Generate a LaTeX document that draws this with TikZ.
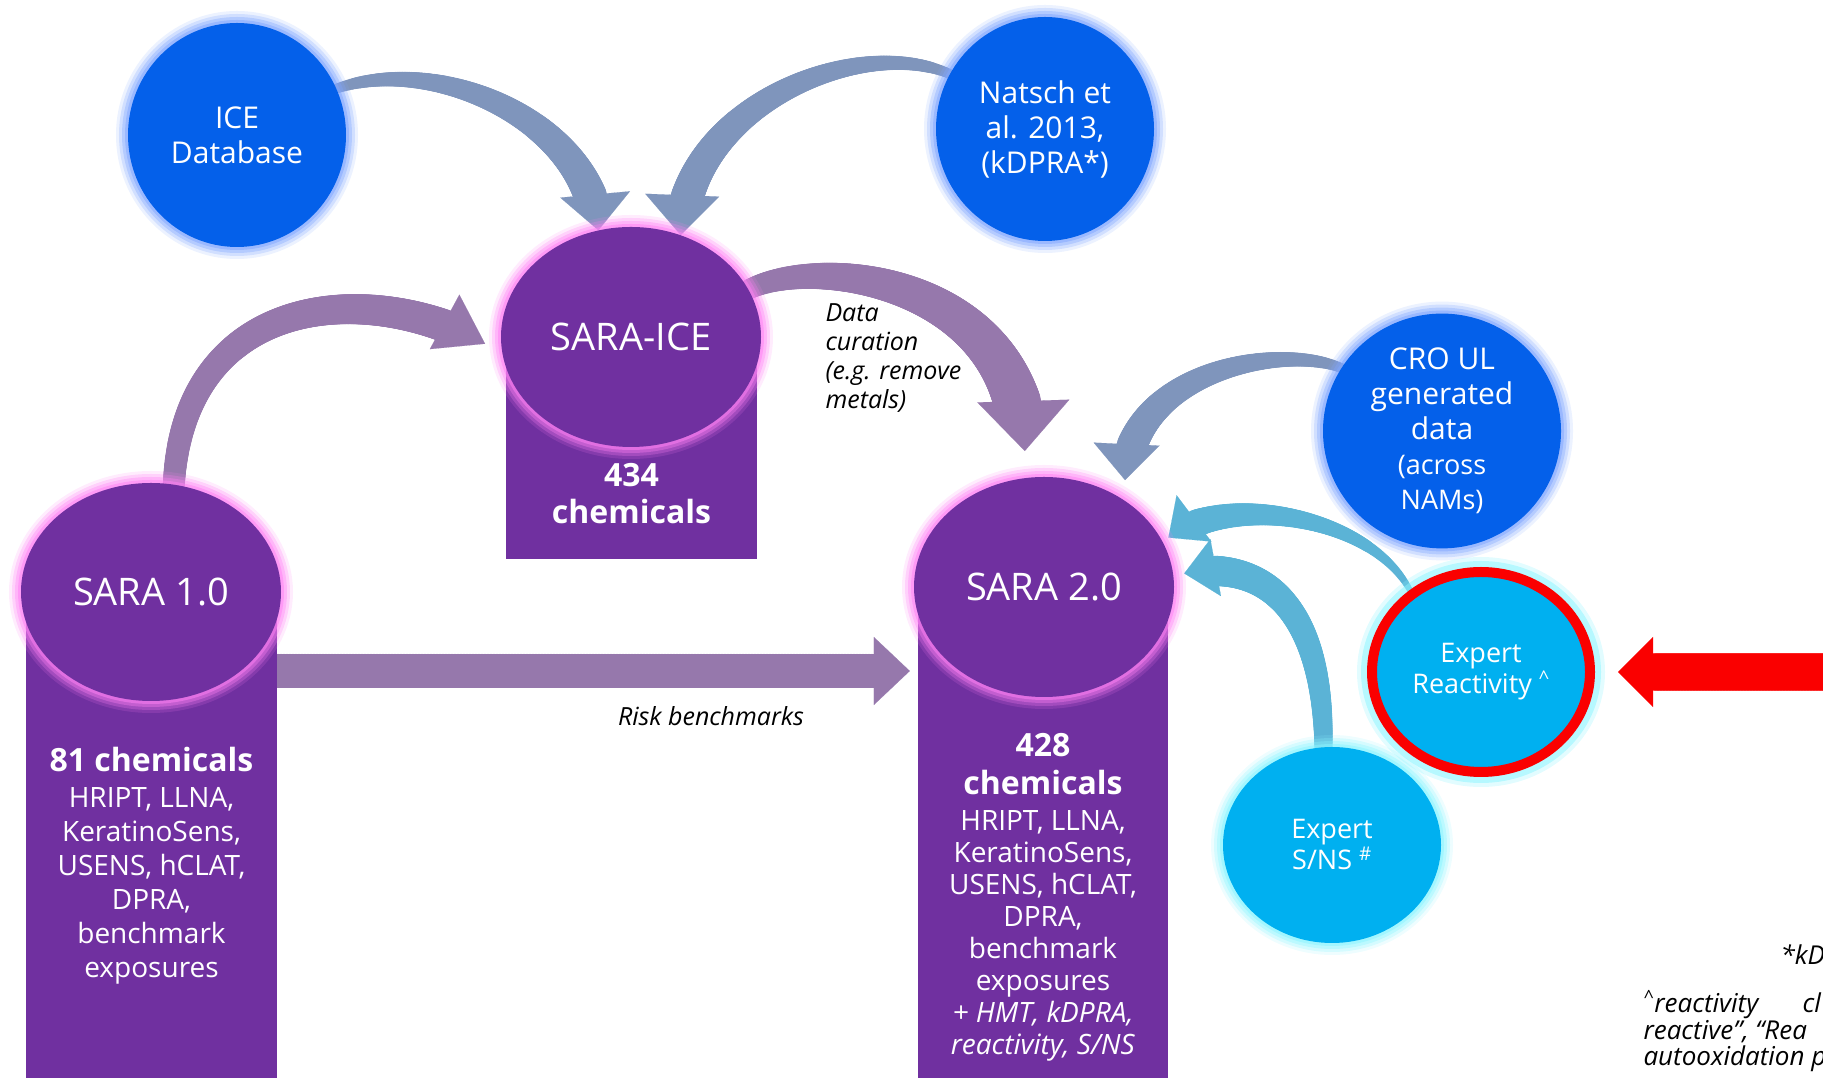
\documentclass[tikz,border=0pt]{standalone}
\usepackage{fontspec}
\setmainfont{Open Sans}
\usetikzlibrary{shapes.geometric,decorations.markings,backgrounds,arrows.meta}

\definecolor{sarapurple}{HTML}{7030A0}
\definecolor{srcblue}{HTML}{0460EA}
\definecolor{expblue}{HTML}{00B0F0}
\definecolor{pinkglow}{HTML}{FF80F4}
\definecolor{blueglow}{HTML}{7FA6FF}
\definecolor{cyanglow}{HTML}{8AF4FF}
\definecolor{flowblue}{HTML}{7F95BC}
\definecolor{flowpurple}{HTML}{9678AC}
\definecolor{flowteal}{HTML}{5BB3D6}
\definecolor{alertred}{HTML}{FA0000}

\newcommand\chemline[1]{{\fontsize{32}{37}\selectfont\bfseries #1}}

\tikzset{
  glow/.style={preaction={draw=#1,line width=24pt,draw opacity=.15},
               preaction={draw=#1,line width=18pt,draw opacity=.25},
               preaction={draw=#1,line width=12pt,draw opacity=.35},
               preaction={draw=#1,line width=6pt,draw opacity=.5}},
  bubble/.style={ellipse,inner sep=0pt,text=white,align=center},
  srcbubble/.style={bubble,fill=srcblue,glow=blueglow,minimum width=218pt,
                    minimum height=224pt,font=\fontsize{30}{35}\selectfont},
  sarabubble/.style={bubble,fill=sarapurple,glow=pinkglow,minimum width=260pt,
                     minimum height=220pt,font=\fontsize{38}{44}\selectfont},
  column/.style={rectangle,fill=sarapurple,inner sep=0pt,anchor=north},
  coltext/.style={text=white,align=center,font=\fontsize{28}{34}\selectfont},
  note/.style={font=\fontsize{25}{29}\selectfont\itshape,align=left},
  footnote/.style={font=\fontsize{26}{29}\selectfont\itshape,anchor=base west},
  % tapered arrow: colour, start radius, end radius, head width, head length
  flow/.style n args={5}{draw=#1,line width=.1pt,
    -{Triangle[width=#4pt,length=#5pt]},
    decoration={markings,
      mark=between positions 0 and -#5pt step 1.5pt with {%
        \pgfmathsetmacro\flowrad{#2+(#3-#2)*\pgfkeysvalueof{/pgf/decoration/mark info/distance from start}/\pgfdecoratedpathlength}%
        \fill[#1] (0,0) circle[radius=\flowrad pt];}},
    postaction={decorate}}
}

\begin{document}
\begin{tikzpicture}[x=1pt,y=1pt]
  \useasboundingbox (0,0) rectangle (1823,1078);
  \clip (0,0) rectangle (1823,1078);

  % purple columns
  \node[column,minimum width=251pt,minimum height=500pt] (sara1col) at (151.5,486) {};
  \node[column,minimum width=251pt,minimum height=222pt] (saraicecol) at (631.5,741) {};
  \node[column,minimum width=250pt,minimum height=505pt] (sara2col) at (1043,491) {};

  % SARA stages
  \node[sarabubble,minimum height=218pt] (sara1) at (151,486) {SARA 1.0};
  \node[sarabubble] (saraice) at (631,741) {SARA-ICE};
  \node[sarabubble] (sara2) at (1044,491) {SARA 2.0};

  % data sources
  \node[srcbubble] (ice) at (237,943) {ICE\\Database};
  \node[srcbubble] (natsch) at (1045,949) {Natsch et\\al. 2013,\\(kDPRA*)};
  \node[srcbubble,minimum width=238pt] (cro) at (1442,647)
    {CRO UL\\generated\\data\\{\fontsize{27}{31}\selectfont(across}\\{\fontsize{27}{31}\selectfont NAMs)}};
  \node[bubble,fill=expblue,draw=alertred,line width=10pt,
        preaction={draw=cyanglow,line width=30pt,draw opacity=.25},
        preaction={draw=cyanglow,line width=22pt,draw opacity=.5},
        minimum width=218pt,minimum height=200pt,font=\fontsize{27}{31}\selectfont]
    (exprea) at (1481,406) {Expert\\Reactivity \textsuperscript{\textasciicircum}};
  \node[bubble,fill=expblue,glow=cyanglow,minimum width=218pt,minimum height=196pt,
        font=\fontsize{27}{31}\selectfont]
    (expsns) at (1332,233) {Expert\\S/NS \textsuperscript{\#}};

  % column texts
  \node[coltext] (sara1txt) at (151.5,212)
    {\chemline{81 chemicals}\\[2pt]HRIPT, LLNA,\\KeratinoSens,\\USENS, hCLAT,\\DPRA,\\benchmark\\exposures};
  \node[coltext,font=\fontsize{32}{37}\selectfont] (saraicetxt) at (631.5,584)
    {\chemline{434}\\\chemline{chemicals}};
  \node[coltext,font=\fontsize{28}{32}\selectfont] (sara2txt) at (1043,181)
    {\chemline{428}\\[6pt]\chemline{chemicals}\\[4pt]HRIPT, LLNA,\\KeratinoSens,\\USENS, hCLAT,\\DPRA,\\benchmark\\exposures\\
     \textit{+ HMT, kDPRA,}\\\textit{reactivity, S/NS}};

  % labels
  \node[note] (risk) at (711,362) {Risk benchmarks};
  \node[note,anchor=west] (curation) at (822,720) {Data\\curation\\(e.g. remove\\metals)};

  % arrows behind the bubbles
  \begin{pgfonlayer}{background}
    \path[flow={flowblue}{5}{18}{70}{36}] (ice.25) .. controls +(100,35) and +(-10,110) .. (saraice.107);
    \path[flow={flowblue}{5}{18}{74}{40}] (natsch.150) .. controls +(-90,40) and +(5,130) .. (saraice.64);
    \path[flow={flowpurple}{11}{17}{62}{46}] (sara1.78) .. controls +(10,190) and +(-120,65) .. ([xshift=-16pt]saraice.183);
    \path[flow={flowpurple}{10}{26}{92}{50}] (saraice.22) .. controls +(70,35) and +(-5,170) .. ([yshift=27pt]sara2.100);
    \path[flow={flowblue}{5}{17}{66}{36}] (cro.148) .. controls +(-60,25) and +(5,110) .. ([shift={(11pt,14pt)}]sara2.53);
    \path[flow={flowteal}{3}{15}{58}{32}] (exprea.131) .. controls +(-40,75) and +(60,45) .. ([xshift=8pt]sara2.23);
    \path[flow={flowteal}{9}{16}{58}{32}] (expsns.95) .. controls +(0,139) and +(81,15) .. ([xshift=11pt]sara2.6);
    \path[flow={flowpurple}{17}{17}{68}{36}] ([yshift=-79pt]sara1col.north east) -- ([shift={(-8pt,-84pt)}]sara2col.north west);
  \end{pgfonlayer}

  % red pointer
  \coordinate (redtail) at (1850,406);
  \path[flow={alertred}{18.5}{18.5}{70}{35}] (redtail) -- ([xshift=23pt]exprea.east);

  % footnotes, cut by the page edge
  \node[footnote] (kdpra) at (1777,113) {*kDPRA};
  \node[footnote] (react1) at (1640,65) {\textsuperscript{\textasciicircum}reactivity};
  \node[footnote] (react1b) at (1799,65) {cl};
  \node[footnote] (react2) at (1640,38) {reactive”, “Rea};
  \node[footnote] (react3) at (1640,12) {autooxidation p};
\end{tikzpicture}
\end{document}
